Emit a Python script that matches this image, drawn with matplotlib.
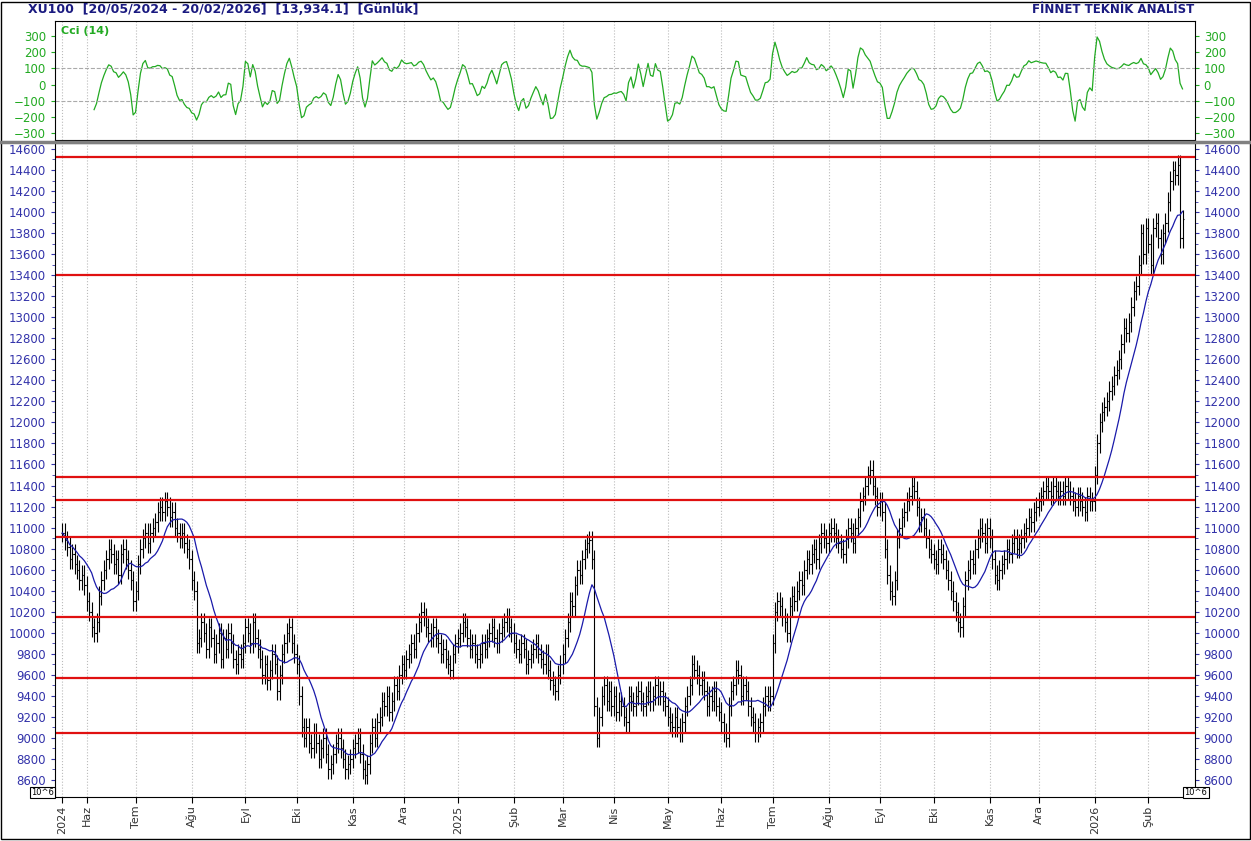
import numpy as np
import pandas as pd
import matplotlib
matplotlib.use('Agg')
import matplotlib.pyplot as plt
from matplotlib.lines import Line2D

# daily closes, grouped by month
closes = [
    # May 2024
    10950, 10880, 10820, 10700, 10750, 10650, 10600, 10500, 10550, 10450,
    # Jun
    10300, 10200, 10050, 10000, 10100, 10350, 10500, 10600, 10700, 10800,
    10750, 10650, 10700, 10550, 10750, 10800, 10700, 10600, 10500, 10300,
    # Jul
    10400, 10650, 10800, 10900, 10950, 10850, 10950, 11000, 11050, 11150,
    11200, 11150, 11250, 11200, 11100, 11150, 11000, 10950, 10900, 10950,
    10850, 10800, 10700,
    # Aug
    10500, 10400, 9900, 9950, 10100, 10000, 9850, 10050, 9950, 9800,
    9900, 10000, 9750, 9950, 9850, 10000, 9900, 9750, 9700, 9800, 9750, 9900,
    # Sep
    10050, 10000, 9900, 10100, 9950, 9850, 9750, 9600, 9700, 9550,
    9650, 9800, 9700, 9450, 9600, 9800, 9900, 10000, 10050, 9900, 9800,
    # Oct
    9700, 9400, 9100, 9000, 9100, 8950, 8900, 9050, 8950, 8800,
    8900, 9000, 8850, 8700, 8750, 8850, 8950, 9000, 8900, 8800, 8700, 8750, 8800,
    # Nov
    8900, 8950, 9000, 8850, 8700, 8650, 8750, 8950, 9100, 9000,
    9150, 9200, 9350, 9300, 9400, 9250, 9350, 9500, 9450, 9600, 9700,
    # Dec
    9650, 9750, 9800, 9900, 9850, 10000, 10100, 10200, 10150, 10050,
    10000, 9950, 10050, 9950, 9900, 9800, 9850, 9750, 9700, 9650, 9800, 9900,
    # Jan 2025
    9950, 10000, 10100, 10050, 9950, 9850, 9900, 9800, 9750, 9800,
    9900, 9850, 9950, 10000, 10050, 9950, 9900, 10000, 10050, 10100, 10150, 10050, 10000,
    # Feb
    9900, 9850, 9800, 9900, 9850, 9700, 9750, 9800, 9850, 9900,
    9800, 9750, 9700, 9800, 9650, 9550, 9500, 9450, 9600, 9700,
    # Mar
    9800, 9950, 10100, 10300, 10250, 10450, 10600, 10550, 10700, 10800,
    10850, 10880, 10700, 9300, 9000, 9200, 9400, 9500, 9350, 9450, 9300,
    # Apr
    9400, 9250, 9350, 9300, 9200, 9150, 9400, 9350, 9300, 9400,
    9450, 9350, 9300, 9400, 9450, 9350, 9400, 9500, 9400, 9450, 9350, 9300,
    # May
    9200, 9150, 9100, 9200, 9100, 9050, 9150, 9300, 9400, 9500,
    9700, 9650, 9600, 9500, 9550, 9450, 9300, 9400, 9350, 9450, 9300, 9250,
    # Jun
    9150, 9050, 9000, 9300, 9450, 9500, 9650, 9600, 9400, 9500,
    9450, 9300, 9200, 9150, 9050, 9100, 9150, 9300, 9400, 9350, 9400,
    # Jul
    9900, 10200, 10300, 10250, 10150, 10100, 10000, 10250, 10350, 10300,
    10400, 10500, 10450, 10600, 10700, 10650, 10750, 10800, 10700, 10850,
    10950, 10900, 10850,
    # Aug
    10950, 11000, 10950, 10900, 10850, 10800, 10750, 10900, 11000, 10950,
    10850, 11000, 11100, 11250, 11300, 11400, 11500, 11550, 11400, 11300, 11200,
    # Sep
    11250, 11150, 10800, 10550, 10400, 10350, 10500, 10900, 11000, 11100,
    11150, 11250, 11300, 11400, 11350, 11200, 11050, 11100, 11000, 10900, 10800, 10750,
    # Oct
    10700, 10650, 10800, 10750, 10700, 10600, 10500, 10400, 10300, 10200,
    10100, 10050, 10250, 10500, 10600, 10700, 10650, 10800, 10900, 11000,
    10950, 10850, 11000,
    # Nov
    10900, 10700, 10550, 10500, 10600, 10650, 10700, 10800, 10750, 10850,
    10900, 10800, 10850, 10900, 10950, 11000, 11100, 11050, 11150, 11200,
    # Dec
    11250, 11300, 11350, 11400, 11350, 11300, 11400, 11350, 11300, 11350,
    11300, 11400, 11350, 11300, 11250, 11200, 11300, 11250, 11200, 11150,
    11300, 11250, 11250,
    # Jan 2026
    11500, 11800, 12000, 12100, 12150, 12200, 12300, 12350, 12450, 12500,
    12600, 12750, 12900, 12850, 12950, 13100, 13250, 13300, 13500, 13800, 13600, 13850,
    # Feb
    13700, 13500, 13850, 13900, 13750, 13600, 13800, 13900, 14100, 14300,
    14400, 14350, 14450, 13750, 13934,
]

levels = [14525, 13400, 11480, 11260, 10910, 10150, 9570, 9045]
tr_months = ['Oca', 'Şub', 'Mar', 'Nis', 'May', 'Haz', 'Tem', 'Ağu', 'Eyl', 'Eki', 'Kas', 'Ara']

c = np.array(closes, dtype=float)
n = len(c)
dates = pd.bdate_range('2024-05-20', periods=n)
o = np.r_[c[0], c[:-1]]
h = np.maximum(o, c) + 90
l = np.minimum(o, c) - 90
x = np.arange(n)

ma = pd.Series(c).rolling(13, min_periods=1).mean().values
tp = pd.Series((h + l + c) / 3)
sma = tp.rolling(14).mean()
mad = tp.rolling(14).apply(lambda v: np.mean(np.abs(v - v.mean())), raw=True)
cci = ((tp - sma) / (0.015 * mad)).values

# month ticks
ticks, labels = [0], ['2024']
for i in range(1, n):
    if dates[i].month != dates[i - 1].month:
        ticks.append(i)
        labels.append(str(dates[i].year) if dates[i].month == 1 else tr_months[dates[i].month - 1])

navy = '#1a1a80'
tickc = '#3333aa'
fig = plt.figure(figsize=(12.51, 8.41), dpi=100)
fig.patches.append(plt.Rectangle((0.001, 0.002), 0.998, 0.996, transform=fig.transFigure,
                                 fill=False, ec='black', lw=1))
fig.text(0.022, 0.989, 'XU100  [20/05/2024 - 20/02/2026]  [13,934.1]  [Günlük]',
         color=navy, fontsize=9, fontweight='bold', va='center')
fig.text(0.955, 0.989, 'FİNNET TEKNİK ANALİST', color=navy, fontsize=8.5,
         fontweight='bold', va='center', ha='right')
fig.add_artist(Line2D([0, 1], [0.8315, 0.8315], color='gray', lw=2.5, transform=fig.transFigure))

ax = fig.add_axes([0.044, 0.0523, 0.911, 0.7777])
axc = fig.add_axes([0.044, 0.8335, 0.911, 0.1415])
xlim = (-3, n + 4)

# CCI panel
axc.plot(x, cci, color='#22aa22', lw=0.9)
axc.set_xlim(xlim)
axc.set_ylim(-343, 393)
axc.set_yticks(range(-300, 301, 100))
axc.set_xticks(ticks)
axc.set_xticklabels([])
axc.tick_params(axis='x', length=0)
axc.tick_params(axis='y', colors='#22aa22', labelsize=8.5, length=3,
                labelleft=True, labelright=True, left=True, right=True)
axc.grid(axis='x', color='#bbbbbb', ls=':', lw=0.8)
for v in (100, -100):
    axc.axhline(v, color='#aaaaaa', ls='--', lw=0.8)
axc.text(0.005, 0.96, 'Cci (14)', transform=axc.transAxes, color='#22aa22',
         fontsize=8, va='top', fontweight='bold')

# price panel
ax.vlines(x, l, h, color='black', lw=0.8)
ax.hlines(o, x - 0.5, x, color='black', lw=0.8)
ax.hlines(c, x, x + 0.5, color='black', lw=0.8)
ax.plot(x, ma, color='#1a1aaa', lw=0.9)
for lv in levels:
    ax.axhline(lv, color='#e01010', lw=1.6)
ax.set_xlim(xlim)
ax.set_ylim(8438, 14657)
ax.set_yticks(range(8600, 14601, 200))
ax.set_yticks(range(8500, 14601, 100), minor=True)
ax.tick_params(axis='y', which='both', colors=tickc, labelsize=8.5, length=3,
               labelleft=True, labelright=True, left=True, right=True)
ax.tick_params(axis='y', which='minor', length=2)
ax.set_xticks(ticks)
ax.set_xticklabels(labels, rotation=90, fontsize=8, color='#333333')
ax.tick_params(axis='x', length=4, pad=2)
ax.grid(axis='x', color='#bbbbbb', ls=':', lw=0.8)
for xx in (0.034, 0.956):
    fig.text(xx, 0.0575, '10^6', fontsize=6, ha='center', va='center',
             bbox=dict(boxstyle='square,pad=0.15', fc='white', ec='black', lw=0.8))

fig.savefig('out.png', dpi=100)
